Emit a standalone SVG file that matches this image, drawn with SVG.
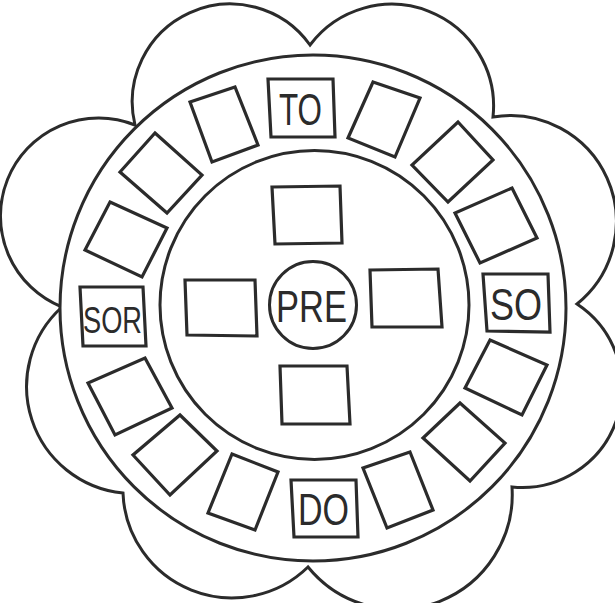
<svg xmlns="http://www.w3.org/2000/svg" width="615" height="603" viewBox="0 0 615 603">
<style>
.ln{fill:none;stroke:#2b2b2b;stroke-width:3;stroke-linejoin:miter}
.bx{fill:#fff;stroke:#2b2b2b;stroke-width:3.2;stroke-linejoin:miter}
.t{font-family:"Liberation Sans","DejaVu Sans",sans-serif;fill:#2b2b2b;font-weight:normal}
</style>
<rect width="615" height="603" fill="#fff"/>
<g id="flower">
<path class="ln" d="M310,45 A102,102 0 0 1 493,117 A106,106 0 0 1 577,304 A100,100 0 0 1 512,487 A115,115 0 0 1 308,567 A109,109 0 0 1 123,493 A107,107 0 0 1 62,307 A98,98 0 0 1 135,125 A98,98 0 0 1 310,45 Z"/>
</g>
<g id="outer-ring">
<circle class="ln" cx="313" cy="308" r="253" fill="#fff" style="fill:#fff"/>
<circle class="ln" cx="314.5" cy="305" r="154.5"/>
</g>
<g id="ring-boxes">
<g id="box-TO"><polygon class="bx" points="268,79 333,79 335,137 271,137"/><text class="t" x="279" y="125" font-size="44" textLength="43" lengthAdjust="spacingAndGlyphs">TO</text></g>
<g id="box-r1"><polygon class="bx" points="373,82 420,98 395,157 348,138"/></g>
<g id="box-r2"><polygon class="bx" points="458,122 493,160 448,202 412,165"/></g>
<g id="box-r3"><polygon class="bx" points="512,188 537,238 480,263 455,213"/></g>
<g id="box-SO"><polygon class="bx" points="483,274 548,274 550,332 487,331"/><text class="t" x="490" y="320" font-size="44" textLength="52" lengthAdjust="spacingAndGlyphs">SO</text></g>
<g id="box-r5"><polygon class="bx" points="490,340 547,365 522,415 465,388"/></g>
<g id="box-r6"><polygon class="bx" points="460,403 505,443 470,481 423,438"/></g>
<g id="box-r7"><polygon class="bx" points="410,452 433,510 387,528 363,468"/></g>
<g id="box-DO"><polygon class="bx" points="291,480 356,480 358,537 294,537"/><text class="t" x="298" y="525" font-size="44" textLength="51" lengthAdjust="spacingAndGlyphs">DO</text></g>
<g id="box-r9"><polygon class="bx" points="232,454 278,472 255,530 208,513"/></g>
<g id="box-r10"><polygon class="bx" points="180,415 217,451 170,495 133,455"/></g>
<g id="box-r11"><polygon class="bx" points="145,358 172,408 115,435 88,383"/></g>
<g id="box-SOR"><polygon class="bx" points="80,287 143,287 146,346 83,346"/><text class="t" x="83" y="333" font-size="36" textLength="59" lengthAdjust="spacingAndGlyphs">SOR</text></g>
<g id="box-r13"><polygon class="bx" points="110,202 167,228 142,277 85,250"/></g>
<g id="box-r14"><polygon class="bx" points="155,133 202,175 167,213 120,172"/></g>
<g id="box-r15"><polygon class="bx" points="190,102 235,87 258,145 212,162"/></g>
</g>
<g id="center">
<g id="pre"><circle class="ln" cx="313" cy="305" r="43.5"/><text class="t" x="276" y="322" font-size="44" textLength="71" lengthAdjust="spacingAndGlyphs">PRE</text></g>
<g id="box-top"><polygon class="bx" points="272,187 340,186 342,243 275,244"/></g>
<g id="box-left"><polygon class="bx" points="185,280 255,280 257,336 187,335"/></g>
<g id="box-right"><polygon class="bx" points="370,270 438,269 442,327 372,327"/></g>
<g id="box-bottom"><polygon class="bx" points="280,366 347,366 350,424 282,424"/></g>
</g>
</svg>
